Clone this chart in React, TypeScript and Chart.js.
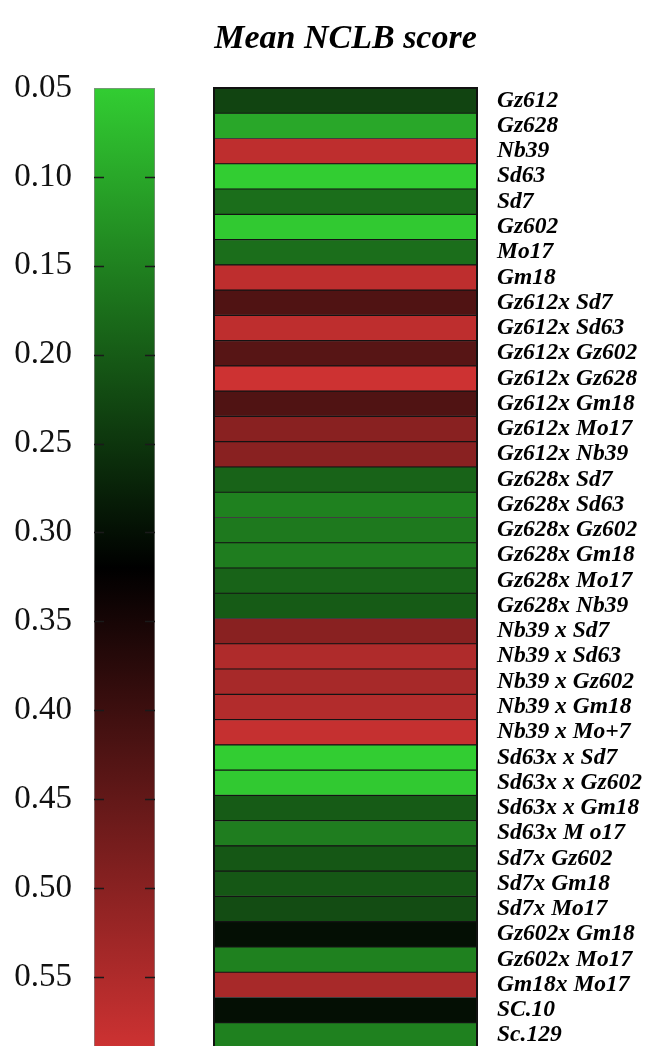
import React, { useEffect, useRef } from "react";
import { Chart, registerables } from "chart.js";

Chart.register(...registerables);

const TITLE = "Mean NCLB score";

const GENOTYPES = [
  "Gz612", "Gz628", "Nb39", "Sd63", "Sd7", "Gz602", "Mo17", "Gm18",
  "Gz612x Sd7", "Gz612x Sd63", "Gz612x Gz602", "Gz612x Gz628", "Gz612x Gm18", "Gz612x Mo17", "Gz612x Nb39",
  "Gz628x Sd7", "Gz628x Sd63", "Gz628x Gz602", "Gz628x Gm18", "Gz628x Mo17", "Gz628x Nb39",
  "Nb39 x Sd7", "Nb39 x Sd63", "Nb39 x Gz602", "Nb39 x Gm18", "Nb39 x Mo+7",
  "Sd63x x Sd7", "Sd63x x Gz602", "Sd63x x Gm18", "Sd63x M o17",
  "Sd7x Gz602", "Sd7x Gm18", "Sd7x Mo17",
  "Gz602x Gm18", "Gz602x Mo17", "Gm18x Mo17", "SC.10", "Sc.129",
];

const NCLB_SCORES = [
  0.23, 0.10, 0.57, 0.05, 0.175, 0.055, 0.175, 0.57,
  0.425, 0.57, 0.435, 0.59, 0.425, 0.50, 0.50,
  0.19, 0.15, 0.16, 0.155, 0.19, 0.20,
  0.50, 0.55, 0.54, 0.555, 0.58,
  0.05, 0.055, 0.20, 0.155,
  0.205, 0.205, 0.22,
  0.30, 0.15, 0.54, 0.30, 0.15,
];

const SCALE_MIN = 0.05;
const SCALE_MID = 0.32;
const SCALE_MAX = 0.59;
const SCALE_TICKS = [0.05, 0.1, 0.15, 0.2, 0.25, 0.3, 0.35, 0.4, 0.45, 0.5, 0.55];

const LOW_RGB = [50, 205, 50];
const MID_RGB = [0, 0, 0];
const HIGH_RGB = [205, 50, 50];

const FONT = "'Liberation Serif', 'Times New Roman', serif";

function mix(a: number[], b: number[], t: number): string {
  const c = a.map((v, i) => Math.round(v + (b[i] - v) * t));
  return `rgb(${c[0]},${c[1]},${c[2]})`;
}

function scoreColor(v: number): string {
  if (v <= SCALE_MID) {
    const t = (v - SCALE_MIN) / (SCALE_MID - SCALE_MIN);
    return mix(LOW_RGB, MID_RGB, Math.max(0, Math.min(1, t)));
  }
  const t = (v - SCALE_MID) / (SCALE_MAX - SCALE_MID);
  return mix(MID_RGB, HIGH_RGB, Math.max(0, Math.min(1, t)));
}

const innerTicks = {
  id: "innerTicks",
  afterDatasetsDraw(chart: any) {
    const s = chart.scales.y;
    const { left, right, top } = chart.chartArea;
    const ctx = chart.ctx;
    ctx.save();
    ctx.strokeStyle = "#1a1a1a";
    ctx.lineWidth = 1.3;
    for (const t of s.ticks) {
      const y = Math.round(s.getPixelForValue(t.value)) + 0.5;
      if (y <= top + 2) continue;
      ctx.beginPath();
      ctx.moveTo(left, y);
      ctx.lineTo(left + 10, y);
      ctx.moveTo(right - 10, y);
      ctx.lineTo(right, y);
      ctx.stroke();
    }
    ctx.restore();
  },
};

const outerFrame = {
  id: "outerFrame",
  afterDatasetsDraw(chart: any) {
    const { left, right, top, bottom } = chart.chartArea;
    const ctx = chart.ctx;
    ctx.save();
    ctx.strokeStyle = "#111";
    ctx.lineWidth = 2;
    ctx.strokeRect(left, top, right - left, bottom - top);
    ctx.restore();
  },
};

export default function App() {
  const barRef = useRef<HTMLCanvasElement>(null);
  const mapRef = useRef<HTMLCanvasElement>(null);

  useEffect(() => {
    const colorbar = new Chart(barRef.current as HTMLCanvasElement, {
      type: "bar",
      data: {
        labels: [""],
        datasets: [
          {
            data: [[SCALE_MIN, SCALE_MAX]] as any,
            backgroundColor: (c: any) => {
              const chart = c.chart;
              if (!chart.chartArea) return "#000";
              const y = chart.scales.y;
              const g = chart.ctx.createLinearGradient(
                0,
                y.getPixelForValue(SCALE_MIN),
                0,
                y.getPixelForValue(SCALE_MAX)
              );
              g.addColorStop(0, scoreColor(SCALE_MIN));
              g.addColorStop((SCALE_MID - SCALE_MIN) / (SCALE_MAX - SCALE_MIN), scoreColor(SCALE_MID));
              g.addColorStop(1, scoreColor(SCALE_MAX));
              return g;
            },
            borderColor: "#8a8a8a",
            borderWidth: 1,
            borderSkipped: false,
            barPercentage: 1,
            categoryPercentage: 1,
          } as any,
        ],
      },
      options: {
        responsive: false,
        animation: false,
        layout: { padding: { left: 0, right: 45, top: 88, bottom: 52 } },
        plugins: {
          legend: { display: false },
          tooltip: { enabled: false },
          title: { display: false },
        },
        scales: {
          x: { display: false },
          y: {
            type: "linear",
            reverse: true,
            min: SCALE_MIN,
            max: SCALE_MAX,
            grid: { display: false, drawTicks: false },
            border: { display: false },
            afterBuildTicks: (s: any) => {
              s.ticks = SCALE_TICKS.map((v) => ({ value: v }));
            },
            afterFit: (s: any) => {
              s.width = 94;
            },
            ticks: {
              padding: 22,
              color: "#111",
              autoSkip: false,
              font: { family: FONT, size: 33 },
              callback: (v: any) => Number(v).toFixed(2),
            },
          },
        },
      } as any,
      plugins: [innerTicks],
    });

    const heatmap = new Chart(mapRef.current as HTMLCanvasElement, {
      type: "bar",
      data: {
        labels: GENOTYPES,
        datasets: [
          {
            data: NCLB_SCORES.map(() => [0, 1]) as any,
            backgroundColor: NCLB_SCORES.map(scoreColor),
            borderColor: "#141414",
            borderWidth: 0.9,
            borderSkipped: false,
            barPercentage: 1,
            categoryPercentage: 1,
          } as any,
        ],
      },
      options: {
        indexAxis: "y",
        responsive: false,
        animation: false,
        layout: { padding: { left: 14, right: 0, top: 0, bottom: 52 } },
        plugins: {
          legend: { display: false },
          tooltip: { enabled: false },
          title: {
            display: true,
            text: TITLE,
            fullSize: false,
            color: "#000",
            font: { family: FONT, size: 34, weight: "bold", style: "italic" },
            padding: { top: 19, bottom: 28.2 },
          },
        },
        scales: {
          x: { display: false, min: 0, max: 1 },
          y: {
            position: "right",
            grid: { display: false, drawTicks: false },
            border: { display: false },
            afterFit: (s: any) => {
              s.width = 169;
            },
            ticks: {
              padding: 20,
              color: "#000",
              autoSkip: false,
              font: { family: FONT, size: 23.5, weight: "bold", style: "italic" },
            },
          },
        },
      } as any,
      plugins: [outerFrame],
    });

    return () => {
      colorbar.destroy();
      heatmap.destroy();
    };
  }, []);

  return (
    <div
      style={{
        position: "fixed",
        left: 0,
        top: 0,
        width: 646,
        height: 1046,
        overflow: "hidden",
        background: "#fff",
      }}
    >
      <canvas
        ref={barRef}
        width={200}
        height={1100}
        style={{ position: "absolute", left: 0, top: 0, width: 200, height: 1100 }}
      />
      <canvas
        ref={mapRef}
        width={446}
        height={1100}
        style={{ position: "absolute", left: 200, top: 0, width: 446, height: 1100 }}
      />
    </div>
  );
}
